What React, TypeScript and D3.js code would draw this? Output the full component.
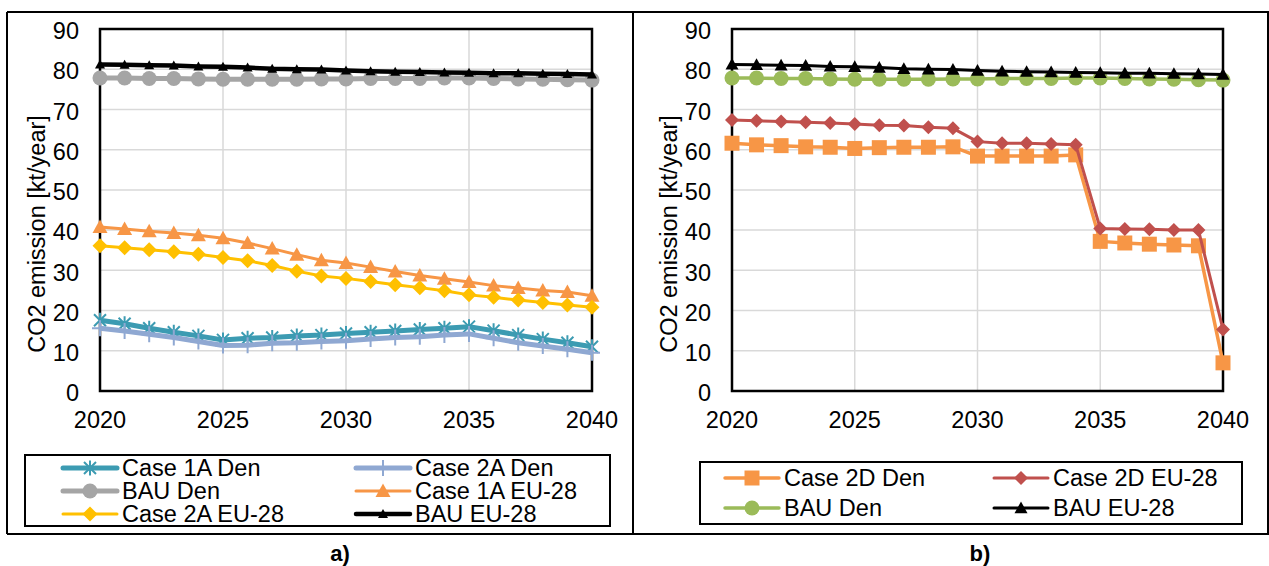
import React from "react";
import * as d3 from "d3";

// categories / ticks
const years = [2020, 2021, 2022, 2023, 2024, 2025, 2026, 2027, 2028, 2029, 2030,
    2031, 2032, 2033, 2034, 2035, 2036, 2037, 2038, 2039, 2040];
const yTicks = [0, 10, 20, 30, 40, 50, 60, 70, 80, 90];
const xTicks = [2020, 2025, 2030, 2035, 2040];

// panel a)
const case1ADen = [17.6, 16.7, 15.6, 14.6, 13.7, 12.7, 13.1, 13.3, 13.7, 13.9, 14.3,
    14.6, 14.9, 15.3, 15.6, 16.0, 15.0, 13.9, 12.9, 12.0, 11.0];
const case2ADen = [15.6, 14.9, 14.1, 13.3, 12.3, 11.3, 11.4, 11.9, 12.0, 12.3, 12.5,
    12.9, 13.3, 13.5, 13.9, 14.2, 13.1, 12.0, 11.2, 10.4, 9.5];
const bauDen = [77.8, 77.8, 77.7, 77.7, 77.6, 77.5, 77.5, 77.5, 77.5, 77.6, 77.6,
    77.7, 77.7, 77.7, 77.8, 77.8, 77.7, 77.6, 77.5, 77.4, 77.3];
const case1AEU = [40.8, 40.3, 39.7, 39.3, 38.7, 38.0, 36.8, 35.4, 33.9, 32.5, 31.8,
    30.8, 29.7, 28.7, 27.9, 27.1, 26.2, 25.6, 25.0, 24.6, 23.7];
const case2AEU = [36.1, 35.6, 35.1, 34.6, 34.0, 33.2, 32.4, 31.2, 29.8, 28.6, 28.0,
    27.2, 26.4, 25.7, 24.9, 23.9, 23.3, 22.6, 22.0, 21.4, 20.8];
const bauEU = [81.2, 81.1, 81.0, 80.9, 80.7, 80.6, 80.4, 80.1, 80.0, 79.9, 79.7,
    79.5, 79.4, 79.3, 79.2, 79.1, 79.0, 79.0, 78.9, 78.8, 78.7];

// panel b)
const case2DDen = [61.6, 61.2, 61.0, 60.7, 60.6, 60.3, 60.5, 60.6, 60.6, 60.7, 58.4,
    58.4, 58.4, 58.4, 58.7, 37.2, 36.8, 36.5, 36.3, 36.1, 7.0];
const case2DEU = [67.4, 67.2, 67.0, 66.8, 66.6, 66.4, 66.1, 66.0, 65.6, 65.3, 62.0,
    61.6, 61.6, 61.4, 61.2, 40.4, 40.3, 40.2, 40.0, 40.0, 15.3];

const FONT = "'Liberation Sans', Arial, sans-serif";

const asterisk = {
    draw(ctx, size) {
        const r = Math.sqrt(size) / 2;
        ctx.moveTo(-r, -r); ctx.lineTo(r, r);
        ctx.moveTo(-r, r); ctx.lineTo(r, -r);
        ctx.moveTo(0, -r * 1.25); ctx.lineTo(0, r * 1.25);
    }
};
const plus = {
    draw(ctx, size) {
        const r = Math.sqrt(size) / 2;
        ctx.moveTo(-r, 0); ctx.lineTo(r, 0);
        ctx.moveTo(0, -r); ctx.lineTo(0, r);
    }
};
const diamond = {
    draw(ctx, size) {
        const r = Math.sqrt(size) / 2;
        ctx.moveTo(0, -r); ctx.lineTo(r, 0); ctx.lineTo(0, r); ctx.lineTo(-r, 0); ctx.closePath();
    }
};
const triangle = {
    draw(ctx, size) {
        const r = Math.sqrt(size) / 2;
        ctx.moveTo(0, -r); ctx.lineTo(r, r * 0.8); ctx.lineTo(-r, r * 0.8); ctx.closePath();
    }
};
const square = {
    draw(ctx, size) {
        const r = Math.sqrt(size) / 2;
        ctx.rect(-r, -r, 2 * r, 2 * r);
    }
};
const circle = {
    draw(ctx, size) {
        const r = Math.sqrt(size) / 2;
        ctx.moveTo(r, 0); ctx.arc(0, 0, r, 0, 2 * Math.PI);
    }
};

const seriesA = [
    {name: "Case 1A Den", values: case1ADen, color: "#3C9BB2", width: 5, type: asterisk, size: 12, stroke: true},
    {name: "Case 2A Den", values: case2ADen, color: "#8FA8D2", width: 5, type: plus, size: 16, stroke: true},
    {name: "BAU Den", values: bauDen, color: "#A5A5A5", width: 5, type: circle, size: 15},
    {name: "Case 1A EU-28", values: case1AEU, color: "#F79646", width: 3, type: triangle, size: 15},
    {name: "Case 2A EU-28", values: case2AEU, color: "#FFC000", width: 3, type: diamond, size: 15},
    {name: "BAU EU-28", values: bauEU, color: "#000000", width: 4.5, type: triangle, size: 10},
];
const seriesB = [
    {name: "Case 2D Den", values: case2DDen, color: "#F79646", width: 3.5, type: square, size: 15},
    {name: "Case 2D EU-28", values: case2DEU, color: "#C0504D", width: 3, type: diamond, size: 14},
    {name: "BAU Den", values: bauDen, color: "#9BBB59", width: 3.5, type: circle, size: 15},
    {name: "BAU EU-28", values: bauEU, color: "#000000", width: 3, type: triangle, size: 13},
];

const Marker = ({s, x, y}) => {
    const d = d3.symbol().type(s.type).size(s.size * s.size)();
    return s.stroke
        ? <path d={d} transform={`translate(${x},${y})`} fill="none" stroke={s.color} strokeWidth={2}/>
        : <path d={d} transform={`translate(${x},${y})`} fill={s.color}/>;
};

const Panel = ({series, left, right, legend, label, labelX}) => {
    const top = 29, bottom = 391;
    const x = d3.scaleLinear().domain([2020, 2040]).range([left, right]);
    const y = d3.scaleLinear().domain([0, 90]).range([bottom, top]);
    const line = d3.line().x((d, i) => x(years[i])).y(d => y(d));

    return (
        <g fontFamily={FONT}>
            {yTicks.map(t => (
                <line key={"gy" + t} x1={left} x2={right} y1={y(t)} y2={y(t)} stroke="#D9D9D9" strokeWidth={1.5}/>
            ))}
            {xTicks.map(t => (
                <line key={"gx" + t} x1={x(t)} x2={x(t)} y1={top} y2={bottom} stroke="#D9D9D9" strokeWidth={1.5}/>
            ))}
            <rect x={left} y={top} width={right - left} height={bottom - top} fill="none" stroke="#000" strokeWidth={2.5}/>
            {yTicks.map(t => (
                <text key={"ty" + t} x={left - 21} y={y(t) + 2} dy="0.35em" textAnchor="end" fontSize={23.5}>{t}</text>
            ))}
            {xTicks.map(t => (
                <text key={"tx" + t} x={x(t)} y={420} dy="0.35em" textAnchor="middle" fontSize={23.5}>{t}</text>
            ))}
            <text transform={`translate(${left - 63},234) rotate(-90)`} textAnchor="middle" dy="0.35em" fontSize={23.5}>
                CO2 emission [kt/year]
            </text>
            {series.map(s => (
                <g key={s.name}>
                    <path d={line(s.values)} fill="none" stroke={s.color} strokeWidth={s.width} strokeLinejoin="round"/>
                    {s.values.map((v, i) => <Marker key={i} s={s} x={x(years[i])} y={y(v)}/>)}
                </g>
            ))}
            <rect x={legend.x0} y={legend.y0} width={legend.x1 - legend.x0} height={legend.y1 - legend.y0}
                  fill="#fff" stroke="#000" strokeWidth={2}/>
            {series.map((s, i) => {
                const col = i % 2, row = Math.floor(i / 2);
                const lx = legend.cols[col], ly = legend.rows[row];
                return (
                    <g key={"lg" + s.name}>
                        <line x1={lx} x2={lx + 54} y1={ly} y2={ly} stroke={s.color} strokeWidth={s.width}
                              strokeLinecap="round"/>
                        <Marker s={s} x={lx + 27} y={ly}/>
                        <text x={lx + 59} y={ly} dy="0.35em" fontSize={23.5}>{s.name}</text>
                    </g>
                );
            })}
            <text x={labelX} y={553} dy="0.35em" textAnchor="middle" fontSize={22} fontWeight="bold">{label}</text>
        </g>
    );
};

const App = () => {
    return (
        <svg width={1269} height={566} style={{position: "absolute", left: 0, top: 0, background: "#fff"}}>
            <rect x={0} y={0} width={1269} height={566} fill="#fff"/>
            <Panel series={seriesA} left={100} right={592} label="a)" labelX={340}
                   legend={{x0: 25, x1: 610, y0: 455, y1: 526, cols: [63, 356], rows: [468, 491, 514]}}/>
            <Panel series={seriesB} left={732} right={1223} label="b)" labelX={980}
                   legend={{x0: 700, x1: 1242, y0: 462, y1: 524, cols: [725, 994], rows: [478, 508]}}/>
            <g stroke="#000" strokeWidth={2}>
                <line x1={7} x2={1269} y1={12} y2={12}/>
                <line x1={7} x2={1269} y1={534} y2={534}/>
                <line x1={7} x2={7} y1={12} y2={534}/>
                <line x1={633} x2={633} y1={12} y2={534}/>
                <line x1={1268} x2={1268} y1={12} y2={534}/>
            </g>
        </svg>
    );
};

export default App;
